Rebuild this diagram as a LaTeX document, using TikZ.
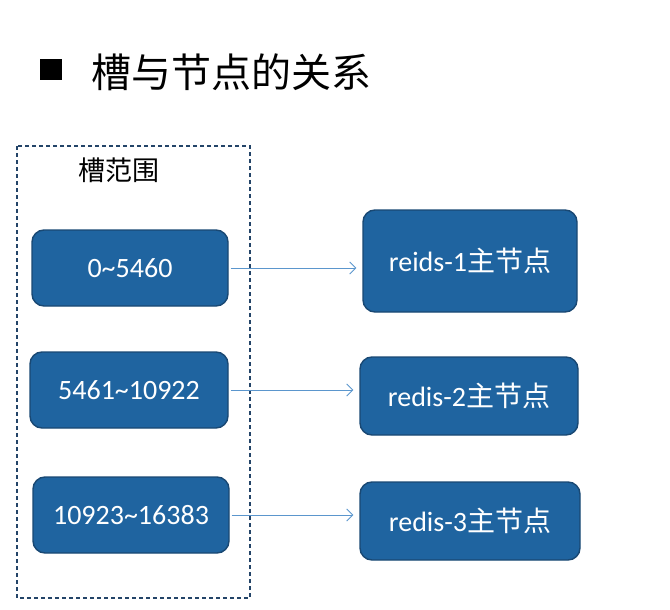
\documentclass[tikz,border=0pt]{standalone}
\usepackage{fontspec}
\usetikzlibrary{arrows.meta}
\setmainfont{Carlito}
\newfontfamily\cjk{Noto Sans CJK SC}
\definecolor{slotblue}{RGB}{31,100,160}
\definecolor{slotedge}{RGB}{25,72,115}
\definecolor{linkblue}{RGB}{91,150,205}
\definecolor{frameblue}{RGB}{35,68,104}

\begin{document}
\begin{tikzpicture}[
  x=1pt, y=-1pt,
  slot/.style={draw=slotedge, line width=1.4pt, fill=slotblue, rounded corners=12pt,
    text=white, font=\fontsize{28}{30}\selectfont, inner sep=0pt},
  link/.style={draw=linkblue, line width=0.8pt, -{Straight Barb[length=6pt,width=12pt]},
    shorten <=2pt, shorten >=6pt},
  frame/.style={draw=frameblue, line width=1.4pt, dash pattern=on 4pt off 3pt}
]
\useasboundingbox (0,0) rectangle (670,610);
% title
\fill (40,59) rectangle (62,80);
\node [anchor=west, font=\cjk\fontsize{40}{44}\selectfont] (title) at (88,72) {槽与节点的关系};
% slot ranges
\draw [frame] (17,146) rectangle (250,598);
\node [font=\cjk\fontsize{27}{30}\selectfont] (range) at (119,170) {槽范围};
\node [slot, minimum width=196pt, minimum height=76pt] (s1) at (130,268) {0\textasciitilde 5460};
\node [slot, minimum width=198pt, minimum height=76pt] (s2) at (129,390) {5461\textasciitilde 10922};
\node [slot, minimum width=196pt, minimum height=76pt] (s3) at (131,515) {10923\textasciitilde 16383};
% master nodes
\node [slot, minimum width=214pt, minimum height=102pt] (m1) at (470,261) {reids-1{\cjk 主节点}};
\node [slot, minimum width=218pt, minimum height=78pt] (m2) at (469,396) {redis-2{\cjk 主节点}};
\node [slot, minimum width=220pt, minimum height=78pt] (m3) at (470,521) {redis-3{\cjk 主节点}};
% links
\draw [link] (s1.east) -- (s1.east -| m1.west);
\draw [link] (s2.east) -- (s2.east -| m2.west);
\draw [link] (s3.east) -- (s3.east -| m3.west);
\end{tikzpicture}
\end{document}
